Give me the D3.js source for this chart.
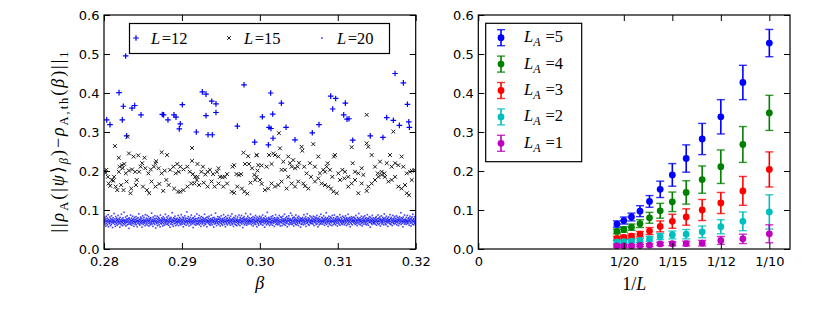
<!DOCTYPE html>
<html>
<head>
<meta charset="utf-8">
<title>Trace distance vs beta and 1/L</title>
<script src="https://d3js.org/d3.v7.min.js"></script>
<style>
  body { margin: 0; background: #fff; }
  .math { font-family: "Liberation Serif", "DejaVu Serif", serif; }
</style>
</head>
<body>
<svg id="fig" width="831" height="312"></svg>
<script>

// ---- left panel data: [beta, distance] ----
const seriesL12 = [
  [0.28035,0.331],[0.28077,0.319],[0.28278,0.495],[0.28193,0.401],[0.28248,0.366],[0.28235,0.331],
  [0.28291,0.290],[0.28359,0.361],[0.28394,0.368],[0.28475,0.344],[0.28748,0.345],[0.28765,0.344],
  [0.28821,0.331],[0.28898,0.344],[0.28924,0.338],[0.28979,0.321],[0.28966,0.308],[0.29005,0.370],
  [0.29185,0.300],[0.29262,0.403],[0.29309,0.397],[0.29309,0.342],[0.29382,0.379],[0.29437,0.372],
  [0.29437,0.350],[0.29335,0.293],[0.29390,0.293],[0.29711,0.315],[0.29797,0.421],[0.29934,0.274],
  [0.30139,0.400],[0.30032,0.339],[0.30165,0.346],[0.30118,0.312],[0.30143,0.309],[0.30169,0.284],
  [0.30109,0.267],[0.30276,0.374],[0.30336,0.312],[0.30451,0.280],[0.30673,0.298],[0.30759,0.319],
  [0.30909,0.392],[0.30973,0.386],[0.30935,0.359],[0.31097,0.374],[0.31076,0.344],[0.31119,0.333],
  [0.31144,0.334],[0.31192,0.279],[0.31417,0.290],[0.31580,0.286],[0.31628,0.337],[0.31713,0.330],
  [0.31735,0.450],[0.31842,0.426],[0.31791,0.317],[0.31894,0.371],[0.31911,0.326],[0.31919,0.312]
];

const seriesL15 = [
  [0.2801,0.200],[0.2802,0.195],[0.2803,0.203],[0.2805,0.185],[0.2806,0.168],[0.2808,0.162],[0.2810,0.177],
  [0.2812,0.175],[0.2813,0.185],[0.2814,0.264],[0.2815,0.160],[0.2817,0.151],[0.2819,0.234],[0.2819,0.198],
  [0.2820,0.211],[0.2822,0.164],[0.2823,0.215],[0.2824,0.207],[0.2825,0.151],[0.2826,0.218],[0.2828,0.194],
  [0.2829,0.173],[0.2830,0.288],[0.2832,0.245],[0.2832,0.201],[0.2834,0.143],[0.2835,0.155],[0.2836,0.204],
  [0.2838,0.237],[0.2840,0.198],[0.2841,0.164],[0.2842,0.177],[0.2844,0.240],[0.2845,0.198],[0.2847,0.211],
  [0.2849,0.220],[0.2850,0.160],[0.2852,0.234],[0.2853,0.207],[0.2855,0.151],[0.2857,0.194],[0.2858,0.143],
  [0.2860,0.204],[0.2861,0.173],[0.2864,0.211],[0.2866,0.160],[0.2866,0.220],[0.2867,0.225],[0.2870,0.207],
  [0.2871,0.167],[0.2874,0.194],[0.2874,0.248],[0.2876,0.149],[0.2878,0.201],[0.2880,0.177],[0.2881,0.241],
  [0.2883,0.164],[0.2885,0.203],[0.2889,0.211],[0.2890,0.155],[0.2892,0.194],[0.2894,0.218],[0.2895,0.147],
  [0.2896,0.198],[0.2898,0.147],[0.2898,0.211],[0.2902,0.151],[0.2902,0.204],[0.2907,0.211],[0.2907,0.160],
  [0.2910,0.198],[0.2912,0.168],[0.2913,0.259],[0.2913,0.226],[0.2914,0.192],[0.2916,0.168],[0.2917,0.185],
  [0.2919,0.177],[0.2920,0.185],[0.2920,0.218],[0.2922,0.164],[0.2925,0.198],[0.2927,0.211],[0.2928,0.170],
  [0.2930,0.191],[0.2933,0.198],[0.2933,0.160],[0.2936,0.203],[0.2938,0.173],[0.2940,0.192],[0.2942,0.160],
  [0.2945,0.198],[0.2947,0.168],[0.2947,0.207],[0.2949,0.185],[0.2952,0.184],[0.2953,0.160],[0.2955,0.185],
  [0.2958,0.168],[0.2958,0.192],[0.2964,0.147],[0.2965,0.211],[0.2967,0.144],[0.2967,0.215],[0.2970,0.192],
  [0.2971,0.160],[0.2973,0.190],[0.2976,0.192],[0.2977,0.155],[0.2979,0.247],[0.2980,0.147],[0.2981,0.218],
  [0.2984,0.142],[0.2985,0.238],[0.2986,0.218],[0.2988,0.170],[0.2990,0.207],[0.2993,0.190],[0.2994,0.177],
  [0.2996,0.240],[0.2997,0.201],
  [0.29958,0.241],[0.29980,0.215],[0.30023,0.214],[0.30087,0.211],[0.30117,0.241],[0.30151,0.218],[0.30172,0.245],
  [0.30194,0.241],[0.30237,0.237],[0.30245,0.297],[0.30258,0.258],[0.30279,0.203],[0.30301,0.224],[0.30322,0.203],
  [0.30365,0.237],[0.30386,0.220],[0.30408,0.211],[0.30429,0.228],[0.30451,0.207],[0.30485,0.211],[0.30502,0.221],
  [0.30536,0.262],[0.30545,0.252],[0.30570,0.211],[0.30600,0.194],[0.30643,0.220],[0.30686,0.269],[0.30707,0.211],
  [0.30750,0.237],[0.30771,0.194],[0.30814,0.203],[0.30836,0.198],[0.30857,0.211],[0.30870,0.220],[0.30900,0.203],
  [0.30930,0.185],[0.30951,0.237],[0.30964,0.241],[0.31007,0.194],[0.31059,0.203],[0.31093,0.198],[0.31135,0.185],
  [0.31178,0.261],[0.31191,0.220],[0.31221,0.198],[0.31264,0.194],[0.31307,0.207],[0.31328,0.190],[0.31371,0.344],
  [0.31371,0.271],[0.31392,0.262],[0.31435,0.241],[0.31478,0.211],[0.31512,0.194],[0.31542,0.224],[0.31563,0.198],
  [0.31598,0.194],[0.31628,0.220],[0.31670,0.241],[0.31692,0.211],[0.31713,0.301],[0.31735,0.220],[0.31777,0.215],
  [0.31820,0.237],[0.31842,0.211],[0.31885,0.194],[0.31927,0.198],[0.31949,0.201],[0.31983,0.203],
  [0.29958,0.185],[0.30001,0.177],[0.30023,0.167],[0.30065,0.151],[0.30108,0.155],[0.30151,0.168],[0.30194,0.160],
  [0.30237,0.164],[0.30279,0.173],[0.30344,0.155],[0.30365,0.185],[0.30408,0.168],[0.30451,0.160],[0.30493,0.173],
  [0.30558,0.168],[0.30579,0.161],[0.30622,0.155],[0.30656,0.185],[0.30707,0.173],[0.30750,0.181],[0.30793,0.168],
  [0.30836,0.164],[0.30879,0.160],[0.30913,0.155],[0.30943,0.147],[0.30986,0.143],[0.31029,0.177],[0.31084,0.181],
  [0.31135,0.160],[0.31178,0.168],[0.31221,0.177],[0.31264,0.143],[0.31307,0.168],[0.31371,0.149],[0.31392,0.160],
  [0.31435,0.168],[0.31478,0.177],[0.31521,0.185],[0.31563,0.190],[0.31606,0.185],[0.31649,0.173],[0.31692,0.177],
  [0.31735,0.185],[0.31777,0.160],[0.31820,0.155],[0.31863,0.164],[0.31885,0.143],[0.31915,0.138],[0.31949,0.177]
];

// L=20: distances in units of 1e-3, sampled left to right over beta
const valuesL20 = (
  "72 68 75 81 64 70 77 59 73 84 66 71 79 62 74 69 88 57 76 70 65 73 82 67 71 60 78 74 63 85 70 68 76 55 72 80 66 74 69 91 " +
  "71 63 77 70 58 83 68 74 65 79 72 61 76 69 86 73 64 70 78 67 75 56 81 71 66 74 62 89 70 77 68 73 60 80 65 72 75 94 69 63 " +
  "74 70 66 82 59 73 77 68 71 85 62 75 69 78 64 72 53 80 67 76 70 63 87 74 66 71 79 61 73 68 84 75 65 70 77 58 72 81 69 64 " +
  "76 71 67 83 62 74 70 78 57 72 66 80 73 69 90 64 75 71 61 77 68 82 74 65 70 79 56 73 67 85 72 63 76 69 81 66 74 71 60 88 " +
  "70 75 64 79 68 72 86 61 74 77 66 71 83 59 73 69 78 65 75 62 80 70 67 92 73 64 76 71 58 82 69 74 66 78 72 63 85 70 77 54 " +
  "73 68 79 65 71 84 60 76 70 67 81 74 62 78 69 73 57 87 66 75 71 64 80 72 68 77 59 74 83 65 70 76 61 79 73 67 89 71 64 75 " +
  "69 74 82 63 72 78 66 70 85 61 75 68 73 79 56 71 77 64 81 70 67 74 93 62 76 69 72 58 80 73 65 78 71 84 66 74 60 77 70 68 " +
  "75 63 79 71 67 86 72 60 76 69 74 81 65 70 78 62 73 88 67 75 71 64 82 69 77 57 74 80 66 72 63 85 70 76 68 79 61 73 71 95 " +
  "67 78 72 64 83 70 75 59 77 69 73 66 81 71 62 76 87 68 74 70 65 79 72 55 80 67 75 71 63 84 69 77 73 61 78 66 72 90 70 64 " +
  "77 71 65 80 73 68 86 62 74 70 79 66 72 58 83 75 69 76 64 71 81 67 73 78 60 74 70 89 65 77 72 63 80 68 75 71 57 82 69 74 " +
  "72 66 79 70 84 63 75 68 73 61 78 71 65 87 74 69 76 62 80 72 67 73 56 81 70 75 64 78 69 92 66 74 71 60 77 73 68 83 65 76 " +
  "70 77 63 82 71 68 75 59 79 73 66 85 70 64 76 72 61 78 69 74 88 67 71 80 63 75 70 57 83 72 68 77 65 73 79 62 71 86 74 67 " +
  "74 69 80 65 72 77 61 84 70 75 67 73 90 63 78 71 66 76 58 81 72 69 74 64 79 70 85 62 75 68 73 60 77 71 82 66 74 70 63 87 " +
  "68 76 72 60 81 74 67 78 70 86 64 73 69 77 55 80 71 66 75 83 62 72 78 68 74 91 65 70 76 61 79 73 67 84 71 64 75 69 80 72 " +
  "73 65 78 71 89 68 74 62 80 70 76 66 72 83 59 75 69 77 64 81 73 67 71 86 63 78 70 74 57 82 68 75 72 65 79 61 76 71 84 69 " +
  "71 79 66 74 63 82 70 77 68 73 87 61 75 69 80 72 65 78 56 74 70 84 67 76 71 62 79 73 94 66 72 69 77 64 81 70 75 60 78 68 " +
  "76 70 64 83 72 67 79 74 61 85 69 73 66 78 71 58 80 75 68 72 88 63 77 70 74 65 81 69 76 62 73 79 67 71 86 64 75 70 59 82 " +
  "69 75 81 67 73 60 78 71 84 65 74 70 77 63 89 72 68 76 61 80 74 66 71 83 69 57 77 73 65 79 72 85 62 75 70 67 78 74 92 64 " +
  "74 68 72 86 63 77 70 80 66 73 59 82 71 75 67 79 64 74 87 70 62 76 72 68 81 65 73 78 60 84 71 69 75 66 80 73 56 77 70 63 " +
  "72 78 65 74 81 69 76 62 73 88 67 71 79 64 75 70 83 58 77 72 66 74 90 68 71 80 63 76 73 61 78 69 85 67 74 70 65 82 72 76 " +
  "66 73 79 70 64 84 71 77 60 75 69 82 72 67 78 74 63 80 70 86 65 76 71 57 79 73 68 75 62 83 70 77 66 72 89 64 74 69 81 71 " +
  "79 64 72 76 68 85 70 74 61 78 73 66 81 69 75 93 63 77 71 67 80 72 58 76 70 84 65 73 78 69 62 82 74 71 67 79 73 60 86 70 " +
  "71 76 63 80 72 68 87 65 74 70 78 62 75 69 82 73 66 77 59 83 71 74 67 79 64 76 72 88 61 73 70 81 68 75 65 78 72 63 84 69 " +
  "73 67 81 70 75 62 79 72 66 85 74 69 77 60 80 71 64 76 73 89 67 72 78 63 81 70 75 57 74 68 79 65 83 71 76 62 73 80 69 74 " +
  "70 82 66 74 71 79 63 77 68 86 72 65 75 70 60 81 74 67 78 72 91 64 76 69 73 80 62 75 71 66 84 70 77 59 73 68 79 64 82 72 " +
  "75 69 73 85 64 78 71 67 80 62 74 70 76 88 65 72 79 61 77 73 68 83 70 75 56 81 69 74 66 78 72 63 86 71 76 67 80 73 65 70 " +
  "68 77 72 64 80 70 75 83 61 74 69 78 66 71 87 73 63 79 70 76 65 82 72 59 77 74 68 85 71 64 75 70 81 67 73 78 62 76 90 69 " +
  "73 80 65 71 77 62 84 70 74 67 79 72 58 76 69 82 73 66 75 71 88 64 78 70 63 81 74 68 77 60 72 86 69 75 66 79 71 64 83 74 " +
  "71 66 78 73 69 85 62 76 70 81 67 74 72 60 79 75 65 83 71 68 77 73 93 63 80 70 74 66 78 71 57 82 69 75 72 64 87 70 76 67 " +
  "76 72 63 81 70 74 67 86 71 65 78 73 69 80 61 75 72 84 66 77 70 59 79 74 68 82 64 73 89 71 76 62 78 70 67 83 72 65 75 80"
).split(" ").map(v => +v / 1000);

const betaTicks = [0.28, 0.29, 0.30, 0.31, 0.32];
const distTicks = [0, 0.1, 0.2, 0.3, 0.4, 0.5, 0.6];

// ---- right panel data: system sizes L and mean +- error per L_A ----
const sizes = [10, 11, 12, 13, 14, 15, 16, 17, 18, 19, 20, 21];
const invTicks = [0, 1/20, 1/15, 1/12, 1/10];
const invTickLabels = ["0", "1/20", "1/15", "1/12", "1/10"];

const meanLA5 = [0.528, 0.427, 0.339, 0.282, 0.232, 0.190, 0.153, 0.122, 0.097, 0.082, 0.073, 0.064];
const errLA5  = [0.035, 0.044, 0.044, 0.040, 0.035, 0.029, 0.021, 0.015, 0.014, 0.010, 0.009, 0.008];
const meanLA4 = [0.349, 0.268, 0.211, 0.178, 0.145, 0.121, 0.098, 0.080, 0.065, 0.056, 0.050, 0.045];
const errLA4  = [0.045, 0.046, 0.043, 0.035, 0.030, 0.025, 0.019, 0.014, 0.010, 0.008, 0.007, 0.006];
const meanLA3 = [0.204, 0.149, 0.118, 0.100, 0.082, 0.071, 0.058, 0.046, 0.038, 0.033, 0.030, 0.027];
const errLA3  = [0.045, 0.037, 0.027, 0.027, 0.021, 0.018, 0.014, 0.009, 0.007, 0.006, 0.005, 0.005];
const meanLA2 = [0.095, 0.071, 0.057, 0.044, 0.038, 0.036, 0.032, 0.026, 0.022, 0.020, 0.019, 0.018];
const errLA2  = [0.044, 0.024, 0.018, 0.015, 0.012, 0.010, 0.008, 0.006, 0.005, 0.004, 0.004, 0.004];
const meanLA1 = [0.039, 0.026, 0.022, 0.015, 0.014, 0.0135, 0.013, 0.010, 0.009, 0.008, 0.008, 0.008];
const errLA1  = [0.023, 0.012, 0.010, 0.007, 0.006, 0.005, 0.004, 0.004, 0.003, 0.003, 0.003, 0.003];

const subsystems = [
  { la: 5, color: "#0000ff", mean: meanLA5, err: errLA5 },
  { la: 4, color: "#008000", mean: meanLA4, err: errLA4 },
  { la: 3, color: "#ff0000", mean: meanLA3, err: errLA3 },
  { la: 2, color: "#00bfbf", mean: meanLA2, err: errLA2 },
  { la: 1, color: "#bf00bf", mean: meanLA1, err: errLA1 }
];

// ---- layout ----
const svg = d3.select("#fig");
const plotTop = 15, plotBottom = 249;
const left = { x0: 104, x1: 415.7 };
const right = { x0: 478.3, x1: 790 };
const tickFont = "DejaVu Sans";
const tickSize = 13;

const xBeta = d3.scaleLinear().domain([0.28, 0.32]).range([left.x0, left.x1]);
const yDist = d3.scaleLinear().domain([0, 0.6]).range([plotBottom, plotTop]);
const xInv = d3.scaleLinear().domain([0, 0.1071]).range([right.x0, right.x1]);

const defs = svg.append("defs");
defs.append("clipPath").attr("id", "clipL").append("rect")
  .attr("x", left.x0).attr("y", plotTop).attr("width", left.x1 - left.x0).attr("height", plotBottom - plotTop);
defs.append("clipPath").attr("id", "clipR").append("rect")
  .attr("x", right.x0).attr("y", plotTop).attr("width", right.x1 - right.x0).attr("height", plotBottom - plotTop);

const plus = s => `M${-s},0H${s}M0,${-s}V${s}`;
const cross = s => `M${-s},${-s}L${s},${s}M${-s},${s}L${s},${-s}`;

// ---- left panel marks ----
const gL = svg.append("g").attr("clip-path", "url(#clipL)");

gL.append("g").selectAll("path").data(seriesL12).join("path")
  .attr("d", plus(2.8))
  .attr("transform", d => `translate(${xBeta(d[0])},${yDist(d[1])})`)
  .attr("stroke", "#0000ff").attr("stroke-width", 1.2).attr("fill", "none");

gL.append("g").selectAll("path").data(seriesL15).join("path")
  .attr("d", cross(1.9))
  .attr("transform", d => `translate(${xBeta(d[0])},${yDist(d[1])})`)
  .attr("stroke", "#1a1a1a").attr("stroke-width", 1).attr("fill", "none");

const betaStep = 0.04 / (valuesL20.length - 1);
gL.append("g").selectAll("rect").data(valuesL20).join("rect")
  .attr("x", (d, i) => xBeta(0.28 + i * betaStep) - 0.8)
  .attr("y", d => yDist(d) - 0.8)
  .attr("width", 1.6).attr("height", 1.6)
  .attr("fill", "#0000ff").attr("opacity", 0.75);

// ---- right panel marks ----
const gR = svg.append("g").attr("clip-path", "url(#clipR)");
subsystems.forEach(s => {
  const pts = sizes.map((L, i) => ({ x: xInv(1 / L), m: s.mean[i], e: s.err[i] }));
  const g = gR.append("g");
  g.selectAll("line.bar").data(pts).join("line").attr("class", "bar")
    .attr("x1", d => d.x).attr("x2", d => d.x)
    .attr("y1", d => yDist(d.m - d.e)).attr("y2", d => yDist(d.m + d.e))
    .attr("stroke", s.color).attr("stroke-width", 1.6);
  ["lo", "hi"].forEach(k => {
    g.selectAll("line.cap" + k).data(pts).join("line").attr("class", "cap" + k)
      .attr("x1", d => d.x - 4).attr("x2", d => d.x + 4)
      .attr("y1", d => yDist(k === "lo" ? d.m - d.e : d.m + d.e))
      .attr("y2", d => yDist(k === "lo" ? d.m - d.e : d.m + d.e))
      .attr("stroke", s.color).attr("stroke-width", 1.4).attr("opacity", 0.8);
  });
  g.selectAll("circle").data(pts).join("circle")
    .attr("cx", d => d.x).attr("cy", d => yDist(d.m)).attr("r", 3.4)
    .attr("fill", s.color);
});

// ---- axes (ticks inward on all sides) ----
function styleAxis(g) {
  g.select(".domain").remove();
  g.selectAll("text").attr("font-family", tickFont).attr("font-size", tickSize).attr("fill", "#000");
  g.selectAll("line").attr("stroke", "#000").attr("stroke-width", 1);
}

function frame(x0, x1, xScale, xTicks, xFormat) {
  svg.append("g").attr("transform", `translate(0,${plotBottom})`)
    .call(d3.axisBottom(xScale).tickValues(xTicks).tickFormat(xFormat).tickSizeInner(-6).tickSizeOuter(0).tickPadding(8))
    .call(styleAxis);
  svg.append("g").attr("transform", `translate(0,${plotTop})`)
    .call(d3.axisTop(xScale).tickValues(xTicks).tickFormat("").tickSizeInner(-6).tickSizeOuter(0))
    .call(styleAxis);
  svg.append("g").attr("transform", `translate(${x0},0)`)
    .call(d3.axisLeft(yDist).tickValues(distTicks).tickFormat(d3.format(".1f")).tickSizeInner(-6).tickSizeOuter(0).tickPadding(4.5))
    .call(styleAxis);
  svg.append("g").attr("transform", `translate(${x1},0)`)
    .call(d3.axisRight(yDist).tickValues(distTicks).tickFormat("").tickSizeInner(-6).tickSizeOuter(0))
    .call(styleAxis);
  svg.append("rect").attr("x", x0).attr("y", plotTop).attr("width", x1 - x0).attr("height", plotBottom - plotTop)
    .attr("fill", "none").attr("stroke", "#000").attr("stroke-width", 1.2);
}

frame(left.x0, left.x1, xBeta, betaTicks, d3.format(".2f"));
frame(right.x0, right.x1, xInv, invTicks, (d, i) => invTickLabels[i]);

// ---- axis labels ----
svg.append("text").attr("class", "math").attr("x", (left.x0 + left.x1) / 2).attr("y", 289)
  .attr("text-anchor", "middle").attr("font-size", 18).attr("font-style", "italic").text("β");

const invLabel = svg.append("text").attr("class", "math").attr("x", (right.x0 + right.x1) / 2).attr("y", 290)
  .attr("text-anchor", "middle").attr("font-size", 18);
invLabel.append("tspan").text("1/");
invLabel.append("tspan").attr("font-style", "italic").text("L");

const yLab = svg.append("text").attr("class", "math")
  .attr("transform", "translate(64,142) rotate(-90)")
  .attr("text-anchor", "middle").attr("font-size", 18)
  .attr("textLength", 181).attr("lengthAdjust", "spacing");
const parts = [
  ["||", 0, false, false], ["ρ", 0, true, false], ["A", 4, false, true], ["(|", -4, false, false],
  ["ψ", 0, true, false], ["⟩", 0, false, false], ["β", 4, true, true], [")", -4, false, false],
  ["−", 0, false, false], ["ρ", 0, true, false], ["A,th", 4, false, true], ["(", -4, false, false],
  ["β", 0, true, false], [")||", 0, false, false], ["1", 4, false, true]
];
parts.forEach(([t, dy, it, sub]) => {
  yLab.append("tspan").attr("dy", dy).attr("font-style", it ? "italic" : "normal")
    .attr("font-size", sub ? 12.5 : 18).text(t);
});

// ---- left legend ----
const legL = svg.append("g");
legL.append("rect").attr("x", 129.5).attr("y", 23.5).attr("width", 260).attr("height", 30)
  .attr("fill", "#fff").attr("stroke", "#000").attr("stroke-width", 1.2);
const legItems = [
  { label: "12", mx: 136, tx: 151, kind: "plus" },
  { label: "15", mx: 229, tx: 244, kind: "cross" },
  { label: "20", mx: 322, tx: 337, kind: "dot" }
];
legItems.forEach(it => {
  if (it.kind === "plus")
    legL.append("path").attr("d", plus(2.8)).attr("transform", `translate(${it.mx},38)`)
      .attr("stroke", "#0000ff").attr("stroke-width", 1.2).attr("fill", "none");
  else if (it.kind === "cross")
    legL.append("path").attr("d", cross(1.9)).attr("transform", `translate(${it.mx},38)`)
      .attr("stroke", "#1a1a1a").attr("stroke-width", 1).attr("fill", "none");
  else
    legL.append("rect").attr("x", it.mx - 0.8).attr("y", 37.2).attr("width", 1.6).attr("height", 1.6)
      .attr("fill", "#0000ff").attr("opacity", 0.75);
  const t = legL.append("text").attr("class", "math").attr("x", it.tx).attr("y", 43.5).attr("font-size", 16.5);
  t.append("tspan").attr("font-style", "italic").text("L");
  t.append("tspan").attr("dx", 1.5).text("=" + it.label);
});

// ---- right legend ----
const legR = svg.append("g");
legR.append("rect").attr("x", 485.7).attr("y", 23.3).attr("width", 96).attr("height", 138.4)
  .attr("fill", "#fff").attr("stroke", "#000").attr("stroke-width", 1.2);
subsystems.forEach((s, i) => {
  const cy = 37.7 + i * 26.4, mx = 501;
  legR.append("line").attr("x1", mx).attr("x2", mx).attr("y1", cy - 8).attr("y2", cy + 8)
    .attr("stroke", s.color).attr("stroke-width", 1.6);
  [-8, 8].forEach(o => legR.append("line").attr("x1", mx - 4).attr("x2", mx + 4)
    .attr("y1", cy + o).attr("y2", cy + o).attr("stroke", s.color).attr("stroke-width", 1.4).attr("opacity", 0.8));
  legR.append("circle").attr("cx", mx).attr("cy", cy).attr("r", 3.4).attr("fill", s.color);
  const t = legR.append("text").attr("class", "math").attr("x", 524).attr("y", cy + 4.5).attr("font-size", 16.5);
  t.append("tspan").attr("font-style", "italic").text("L");
  t.append("tspan").attr("font-style", "italic").attr("font-size", 12).attr("dy", 4).text("A");
  t.append("tspan").attr("dy", -4).attr("dx", 5).text("=" + s.la);
});

</script>
</body>
</html>
